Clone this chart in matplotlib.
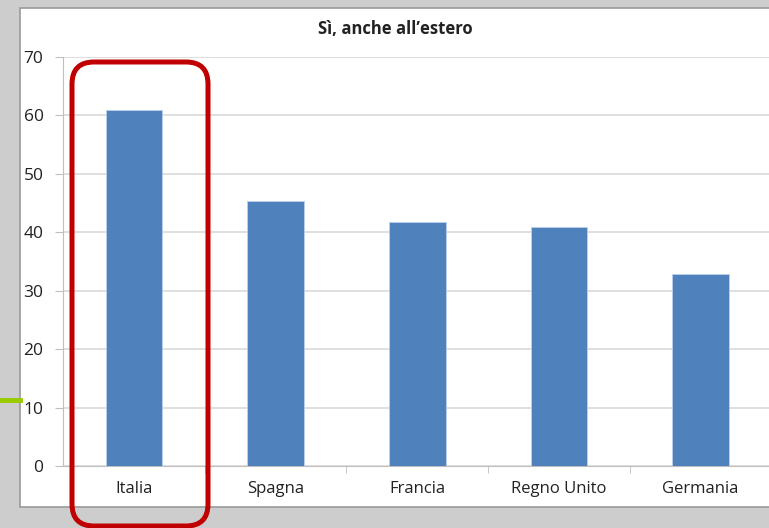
import matplotlib
matplotlib.use("Agg")
import matplotlib.pyplot as plt
from matplotlib.patches import FancyBboxPatch, Rectangle
from matplotlib.lines import Line2D

plt.rcParams['font.family'] = ['Open Sans', 'DejaVu Sans']

# dati
paesi = ["Italia", "Spagna", "Francia", "Regno Unito", "Germania"]
valori = [61, 45.4, 41.8, 40.9, 32.9]
titolo = "Sì, anche all’estero"
y_ticks = [0, 10, 20, 30, 40, 50, 60, 70]

W, H = 769, 528
fig = plt.figure(figsize=(W / 100, H / 100), dpi=100)
fig.patch.set_facecolor("#cdcdcd")

# sfondo / cornice del grafico (coordinate in pixel, origine in basso)
bg = fig.add_axes([0, 0, 1, 1], zorder=0)
bg.set_xlim(0, W)
bg.set_ylim(0, H)
bg.axis("off")
bg.add_patch(Rectangle((20, H - 507), 760, 499, facecolor="white",
                       edgecolor="#9a9a9a", lw=1.2))
bg.add_line(Line2D([0, 20], [H - 400, H - 400], color="#99cc00", lw=3.5))

# grafico a barre
ax = fig.add_axes([63 / W, (H - 466) / H, (771.5 - 63) / W, (466 - 57) / H], zorder=1)
ax.patch.set_alpha(0)
x = range(len(paesi))
ax.bar(x, valori, width=0.4, color="#4f81bd", edgecolor="#bcd0ea", lw=0.6, zorder=3)
ax.set_xlim(-0.5, len(paesi) - 0.5)
ax.set_ylim(0, 70)
ax.set_yticks(y_ticks)
ax.yaxis.grid(True, color="#d9d9d9", lw=1.2, zorder=0)
ax.set_xticks(list(x))
ax.set_xticklabels(paesi)
ax.set_xticks([i + 0.5 for i in range(len(paesi) - 1)], minor=True)
ax.tick_params(axis="x", which="major", length=0, pad=11, labelsize=12, colors="#222222")
ax.tick_params(axis="x", which="minor", length=5, color="#bfbfbf", direction="out")
ax.tick_params(axis="y", length=6, color="#bfbfbf", pad=8, labelsize=12.5, labelcolor="#222222")
for s in ["top", "right"]:
    ax.spines[s].set_visible(False)
ax.spines["left"].set_color("#bfbfbf")
ax.spines["bottom"].set_color("#bfbfbf")

fig.text(395 / W, (H - 29) / H, titolo, ha="center", va="center",
         fontsize=12, fontweight="bold", color="#222222")

# riquadro rosso evidenziato
ov = fig.add_axes([0, 0, 1, 1], zorder=5)
ov.set_xlim(0, W)
ov.set_ylim(0, H)
ov.axis("off")
ov.patch.set_alpha(0)
ov.add_patch(FancyBboxPatch((72, H - 526), 136, 464,
                            boxstyle="round,pad=0,rounding_size=22",
                            facecolor="none", edgecolor="#c00000", lw=3.6))

fig.savefig("out.png", dpi=100)
